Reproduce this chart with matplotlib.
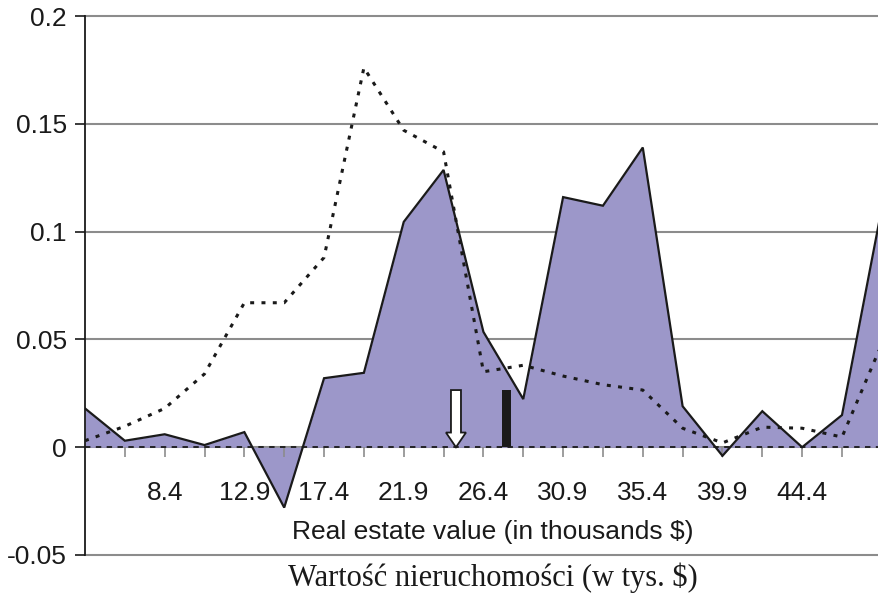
import matplotlib
matplotlib.use("Agg")
import matplotlib.pyplot as plt
from matplotlib.patches import FancyArrow

# Category positions (thousands $)
x_values = [3.9, 6.15, 8.4, 10.65, 12.9, 15.15, 17.4, 19.65, 21.9, 24.15, 26.4,
            28.65, 30.9, 33.15, 35.4, 37.65, 39.9, 42.15, 44.4, 46.65, 48.9]
labelled_ticks = [8.4, 12.9, 17.4, 21.9, 26.4, 30.9, 35.4, 39.9, 44.4]

# Filled series
area_values = [0.018, 0.003, 0.006, 0.001, 0.007, -0.028, 0.032, 0.0345, 0.1045,
               0.1286, 0.0535, 0.0223, 0.116, 0.112, 0.139, 0.019, -0.004, 0.0167,
               0.0, 0.0149, 0.111]

# Dotted series
dotted_values = [0.003, 0.0097, 0.018, 0.034, 0.067, 0.067, 0.088, 0.176, 0.147,
                 0.137, 0.035, 0.038, 0.033, 0.029, 0.0265, 0.0088, 0.002, 0.0093,
                 0.0088, 0.0047, 0.048]

# Reference markers
arrow_x = 24.85
bar_x = 27.7
marker_height = 0.0265

y_ticks = [-0.05, 0, 0.05, 0.1, 0.15, 0.2]
y_tick_labels = ["-0.05", "0", "0.05", "0.1", "0.15", "0.2"]

plt.rcParams["font.family"] = ["Liberation Sans", "DejaVu Sans"]

W, H = 879, 599
fig = plt.figure(figsize=(W / 100, H / 100), dpi=100)
ax = fig.add_axes([85 / W, (H - 555) / H, 794 / W, 539 / H])

ax.set_xlim(x_values[0], 48.74)
ax.set_ylim(-0.05, 0.2)

# horizontal grid
for yv in y_ticks:
    ax.axhline(yv, color="#8c8c8c", lw=1.5, zorder=0.5, clip_on=False)

# filled area with black outline
ax.fill_between(x_values, 0, area_values, color="#9c97c9", lw=0, zorder=1)
ax.plot(x_values, area_values, color="#1a1a1a", lw=1.6, zorder=2,
        solid_joinstyle="miter")

# dotted series
ax.plot(x_values, dotted_values, color="#1a1a1a", lw=2.2,
        linestyle=(0, (1.3, 2.4)), zorder=3)

# dashed zero line
ax.axhline(0, color="#1a1a1a", lw=1.3, linestyle=(0, (3, 3)), zorder=3.5)

# markers
arrow = FancyArrow(arrow_x, marker_height, 0, -marker_height, width=0.565,
                   head_width=1.13, head_length=0.0068, length_includes_head=True,
                   facecolor="white", edgecolor="#1a1a1a", lw=1.3, zorder=6)
ax.add_patch(arrow)
ax.bar([bar_x], [marker_height], width=0.51, color="#1a1a1a", zorder=6)

# spines
for side in ["top", "right"]:
    ax.spines[side].set_visible(False)
ax.spines["left"].set_color("#1a1a1a")
ax.spines["left"].set_linewidth(1.3)
ax.spines["bottom"].set_position(("data", 0))
ax.spines["bottom"].set_color("#8c8c8c")
ax.spines["bottom"].set_linewidth(1.3)
ax.spines["bottom"].set_zorder(0.8)

# ticks
ax.set_yticks(y_ticks)
ax.set_yticklabels(y_tick_labels)
ax.tick_params(axis="y", direction="out", length=7, width=1.2, color="#1a1a1a",
               pad=6, labelsize=19, labelcolor="#1a1a1a")

ax.set_xticks(labelled_ticks)
ax.set_xticklabels([f"{v:g}" for v in labelled_ticks])
minor = [v for v in x_values[1:-1] if v not in labelled_ticks]
ax.set_xticks(minor, minor=True)
ax.tick_params(axis="x", which="both", direction="out", length=7, width=1.2,
               color="#8c8c8c")
ax.tick_params(axis="x", which="major", pad=17, labelsize=19,
               labelcolor="#1a1a1a")

fig.text(493 / W, 1 - 532 / H, "Real estate value (in thousands $)",
         ha="center", va="center", fontsize=19, color="#1a1a1a")
fig.text(493 / W, 1 - 578 / H, "Wartość nieruchomości (w tys. $)",
         ha="center", va="center", fontsize=22, color="#1a1a1a",
         family=["Liberation Serif", "DejaVu Serif"])

fig.savefig("out.png", dpi=100)
